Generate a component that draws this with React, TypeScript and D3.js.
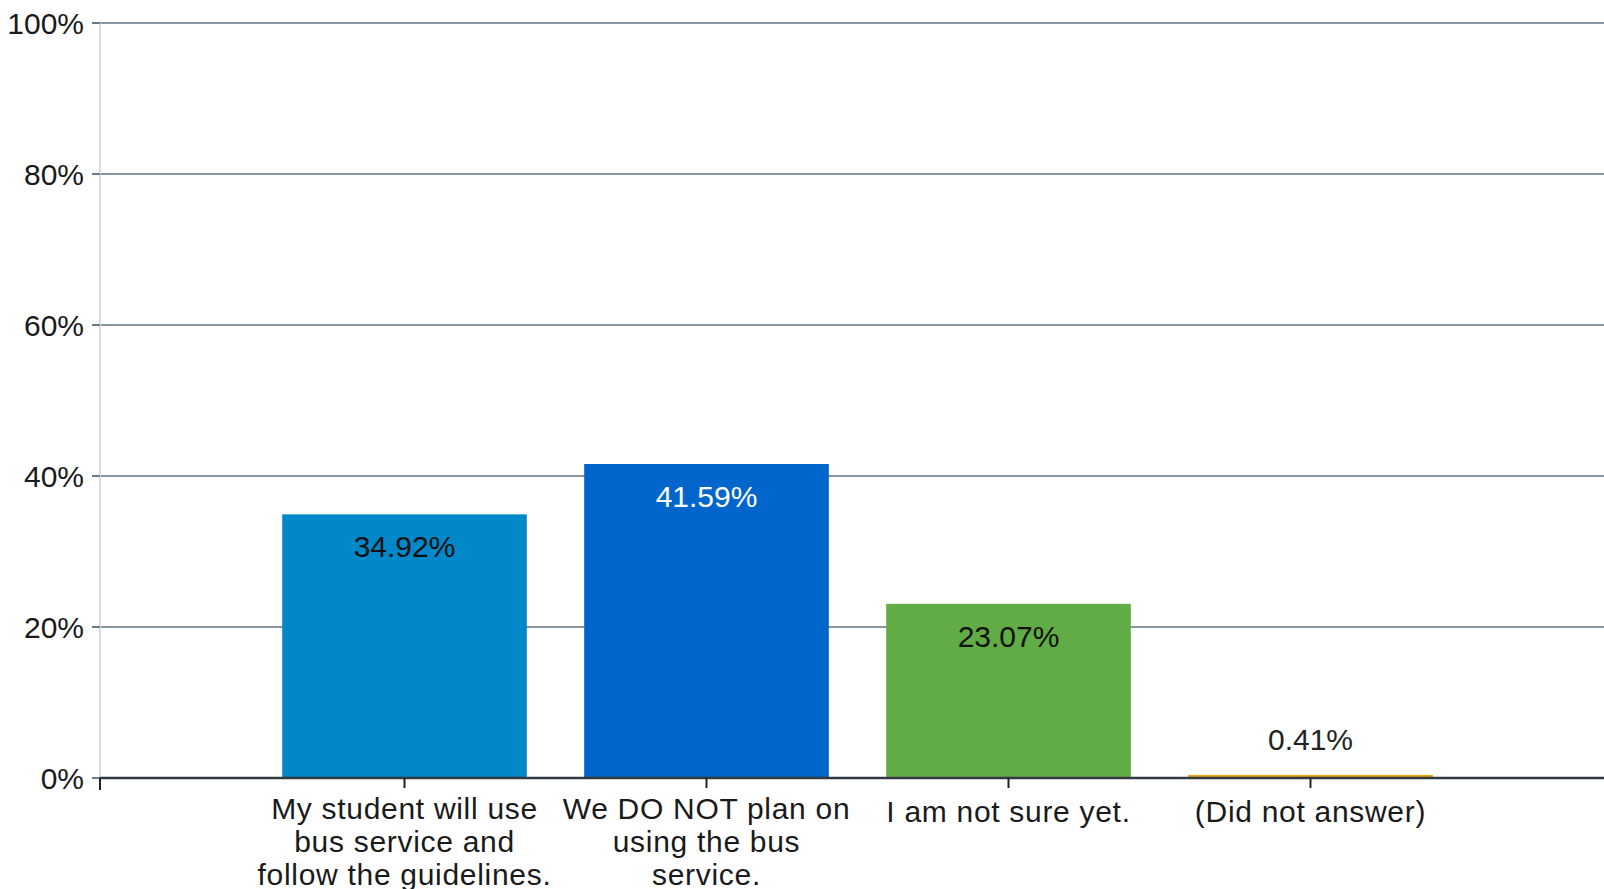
import React from "react";
import * as d3 from "d3";

const categories: string[][] = [
  ["My student will use", "bus service and", "follow the guidelines."],
  ["We DO NOT plan on", "using the bus", "service."],
  ["I am not sure yet."],
  ["(Did not answer)"],
];
const values: number[] = [34.92, 41.59, 23.07, 0.41];
const valueLabels: string[] = ["34.92%", "41.59%", "23.07%", "0.41%"];
const barColors: string[] = ["#0088C8", "#0066CC", "#62AC46", "#E6A511"];
const labelColors: string[] = ["#111111", "#ffffff", "#111111", "#222222"];
const yTicks: number[] = [0, 20, 40, 60, 80, 100];
const yTickLabels: string[] = ["0%", "20%", "40%", "60%", "80%", "100%"];

const W = 1604;
const H = 889;
const FONT = "'Liberation Sans', Arial, sans-serif";

export default function App() {
  const y = d3.scaleLinear().domain([0, 100]).range([778, 23]);
  const x = d3.scaleLinear().domain([0, categories.length + 1]).range([102.5, 1612.5]);
  const step = x(1) - x(0);
  const barW = step * 0.81;
  const axisX = 100;

  return (
    <svg
      width={W}
      height={H}
      style={{ position: "absolute", left: 0, top: 0, background: "#fff" }}
      fontFamily={FONT}
    >
      <rect x={0} y={0} width={W} height={H} fill="#fff" />
      {yTicks.map((t, i) =>
        t === 0 ? null : (
          <line key={"g" + i} x1={92} x2={W} y1={y(t)} y2={y(t)} stroke="#8797a2" strokeWidth={2} />
        )
      )}
      <line x1={axisX} x2={axisX} y1={y(100)} y2={y(0)} stroke="#d3dbe8" strokeWidth={2} />
      {yTicks.map((t, i) => (
        <g key={"yt" + i}>
          <line x1={92} x2={axisX} y1={y(t)} y2={y(t)} stroke="#6b7a85" strokeWidth={2} />
          <text x={84} y={y(t) + 11} textAnchor="end" fontSize={30} fill="#1a1a1a">
            {yTickLabels[i]}
          </text>
        </g>
      ))}
      {values.map((v, i) => {
        const cx = x(i + 1);
        const top = y(v);
        const h = y(0) - top;
        return (
          <rect
            key={"b" + i}
            x={cx - barW / 2}
            y={top}
            width={barW}
            height={Math.max(h, 0)}
            fill={barColors[i]}
          />
        );
      })}
      <line x1={axisX} x2={W} y1={y(0)} y2={y(0)} stroke="#333a3f" strokeWidth={2.5} />
      <line x1={axisX} x2={axisX} y1={y(0)} y2={y(0) + 12} stroke="#222" strokeWidth={2} />
      {categories.map((c, i) => (
        <line key={"xt" + i} x1={x(i + 1)} x2={x(i + 1)} y1={y(0)} y2={y(0) + 10} stroke="#222" strokeWidth={2} />
      ))}
      {values.map((v, i) => {
        const cx = x(i + 1);
        const top = y(v);
        const inside = y(0) - top > 60;
        return (
          <text
            key={"v" + i}
            x={cx}
            y={inside ? top + 43 : top - 25}
            textAnchor="middle"
            fontSize={30}
            fill={labelColors[i]}
          >
            {valueLabels[i]}
          </text>
        );
      })}
      {categories.map((lines, i) => (
        <text
          key={"c" + i}
          x={x(i + 1)}
          y={819 + (lines.length === 1 ? 3 : 0)}
          textAnchor="middle"
          fontSize={30}
          letterSpacing={0.7}
          fill="#1a1a1a"
        >
          {lines.map((l, j) => (
            <tspan key={j} x={x(i + 1)} dy={j === 0 ? 0 : 33}>
              {l}
            </tspan>
          ))}
        </text>
      ))}
    </svg>
  );
}
